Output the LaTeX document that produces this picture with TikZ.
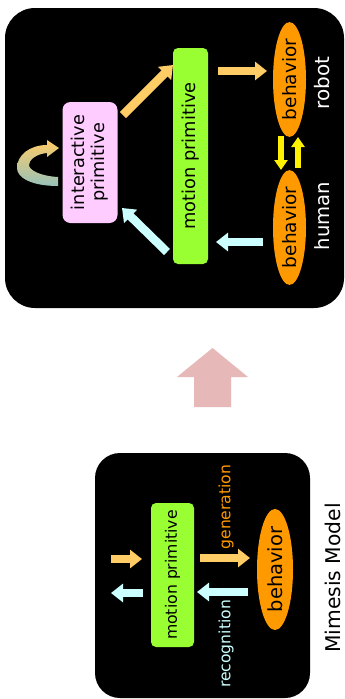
\documentclass[tikz,border=0pt]{standalone}
\usepackage{fontspec}
\setmainfont{DejaVu Sans}
\usetikzlibrary{arrows.meta,shapes.geometric}
\definecolor{mpgreen}{HTML}{99FF33}
\definecolor{ippink}{HTML}{FFCCFF}
\definecolor{bhorange}{HTML}{FF9900}
\definecolor{arrorange}{HTML}{FFCC66}
\definecolor{arrcyan}{HTML}{CCFFFF}
\definecolor{bigpink}{HTML}{E6B9B8}
\definecolor{loopteal}{HTML}{98C2BA}
\definecolor{loopmid}{HTML}{D2CBA2}
\begin{document}
\begin{tikzpicture}[x=1pt,y=-1pt,
  blockarrow/.style={line width=8.5pt,-{Triangle[length=12pt,width=18pt]}},
  yelarrow/.style={line width=6pt,yellow,-{Triangle[length=10pt,width=13pt]}},
  mpbox/.style={draw=none,fill=mpgreen,rounded corners=5pt,rotate=90,inner sep=0pt},
  bhell/.style={ellipse,fill=bhorange,rotate=90,inner sep=0pt,minimum width=105pt},
  vtext/.style={rotate=90,inner sep=0pt}]
\useasboundingbox (0,0) rectangle (345,699);
\fill[white] (0,0) rectangle (345,699);
% panels
\fill[black,rounded corners=30pt] (5,8) rectangle (344,308);
\fill[black,rounded corners=25pt] (95,453) rectangle (310,698);
% top panel nodes
\node[fill=ippink,rounded corners=8pt,rotate=90,inner sep=0pt,minimum width=121pt,minimum height=55pt,align=center,font=\fontsize{17.7}{20}\selectfont] (ip) at (90,162.5) {interactive\\primitive};
\node[mpbox,minimum width=216pt,minimum height=35pt,font=\fontsize{17.8}{20}\selectfont] (mp) at (190.5,156) {motion primitive};
\node[bhell,minimum height=33pt,font=\fontsize{18.5}{20}\selectfont] (rb) at (289.5,79.5) {behavior};
\node[bhell,minimum height=33pt,font=\fontsize{18.5}{20}\selectfont] (hb) at (289.5,227.5) {behavior};
\node[vtext,white,font=\fontsize{20}{22}\selectfont] (robot) at (322,83) {robot};
\node[vtext,white,font=\fontsize{19.6}{22}\selectfont] (human) at (322,216) {human};
% top arrows
\coordinate (a1s) at (218,71); \coordinate (a1e) at (267,71);
\coordinate (a2s) at (263,242); \coordinate (a2e) at (216,242);
\coordinate (a3s) at (123,115); \coordinate (a3e) at (173,65);
\coordinate (a4s) at (167,252); \coordinate (a4e) at (122,208);
\coordinate (y1s) at (281,136); \coordinate (y1e) at (281,170);
\coordinate (y2s) at (298,168); \coordinate (y2e) at (298,137);
\draw[blockarrow,arrorange] (a1s) -- (a1e);
\draw[blockarrow,arrcyan] (a2s) -- (a2e);
\draw[blockarrow,arrorange] (a3s) -- (a3e);
\draw[blockarrow,arrcyan] (a4s) -- (a4e);
\draw[yelarrow] (y1s) -- (y1e);
\draw[yelarrow] (y2s) -- (y2e);
% self loop
\shade[top color=arrorange,middle color=loopmid,bottom color=loopteal]
  (58,186) .. controls (32,186) and (17,178) .. (17,168)
  .. controls (17,155) and (30,145) .. (47,145)
  -- (47,140) -- (59,148) -- (47,157) -- (47,153)
  .. controls (36,154) and (29,160) .. (29,165)
  .. controls (29,170) and (40,176) .. (58,177) -- cycle;
% big arrow
\fill[bigpink] (194,407) -- (194,377) -- (177,377) -- (212.5,348) -- (248,377) -- (231,377) -- (231,407) -- cycle;
% bottom panel
\node[mpbox,minimum width=144pt,minimum height=43pt,font=\fontsize{15.7}{18}\selectfont] (mp2) at (172.5,575) {motion primitive};
\node[bhell,minimum height=36pt,font=\fontsize{19.5}{22}\selectfont] (bb) at (275,569.5) {behavior};
\node[vtext,bhorange,font=\fontsize{15.6}{18}\selectfont] (gen) at (226,507) {generation};
\node[vtext,arrcyan,font=\fontsize{15.6}{18}\selectfont] (rec) at (226,644) {recognition};
\node[vtext,black,font=\fontsize{20.3}{22}\selectfont] (mm) at (333,578) {Mimesis Model};
\coordinate (b1s) at (200,558); \coordinate (b1e) at (250,558);
\coordinate (b2s) at (248,592); \coordinate (b2e) at (197,592);
\coordinate (b3s) at (111,559); \coordinate (b3e) at (142,559);
\coordinate (b4s) at (143,593); \coordinate (b4e) at (111,593);
\draw[blockarrow,arrorange] (b1s) -- (b1e);
\draw[blockarrow,arrcyan] (b2s) -- (b2e);
\draw[blockarrow,arrorange] (b3s) -- (b3e);
\draw[blockarrow,arrcyan] (b4s) -- (b4e);
\end{tikzpicture}
\end{document}
